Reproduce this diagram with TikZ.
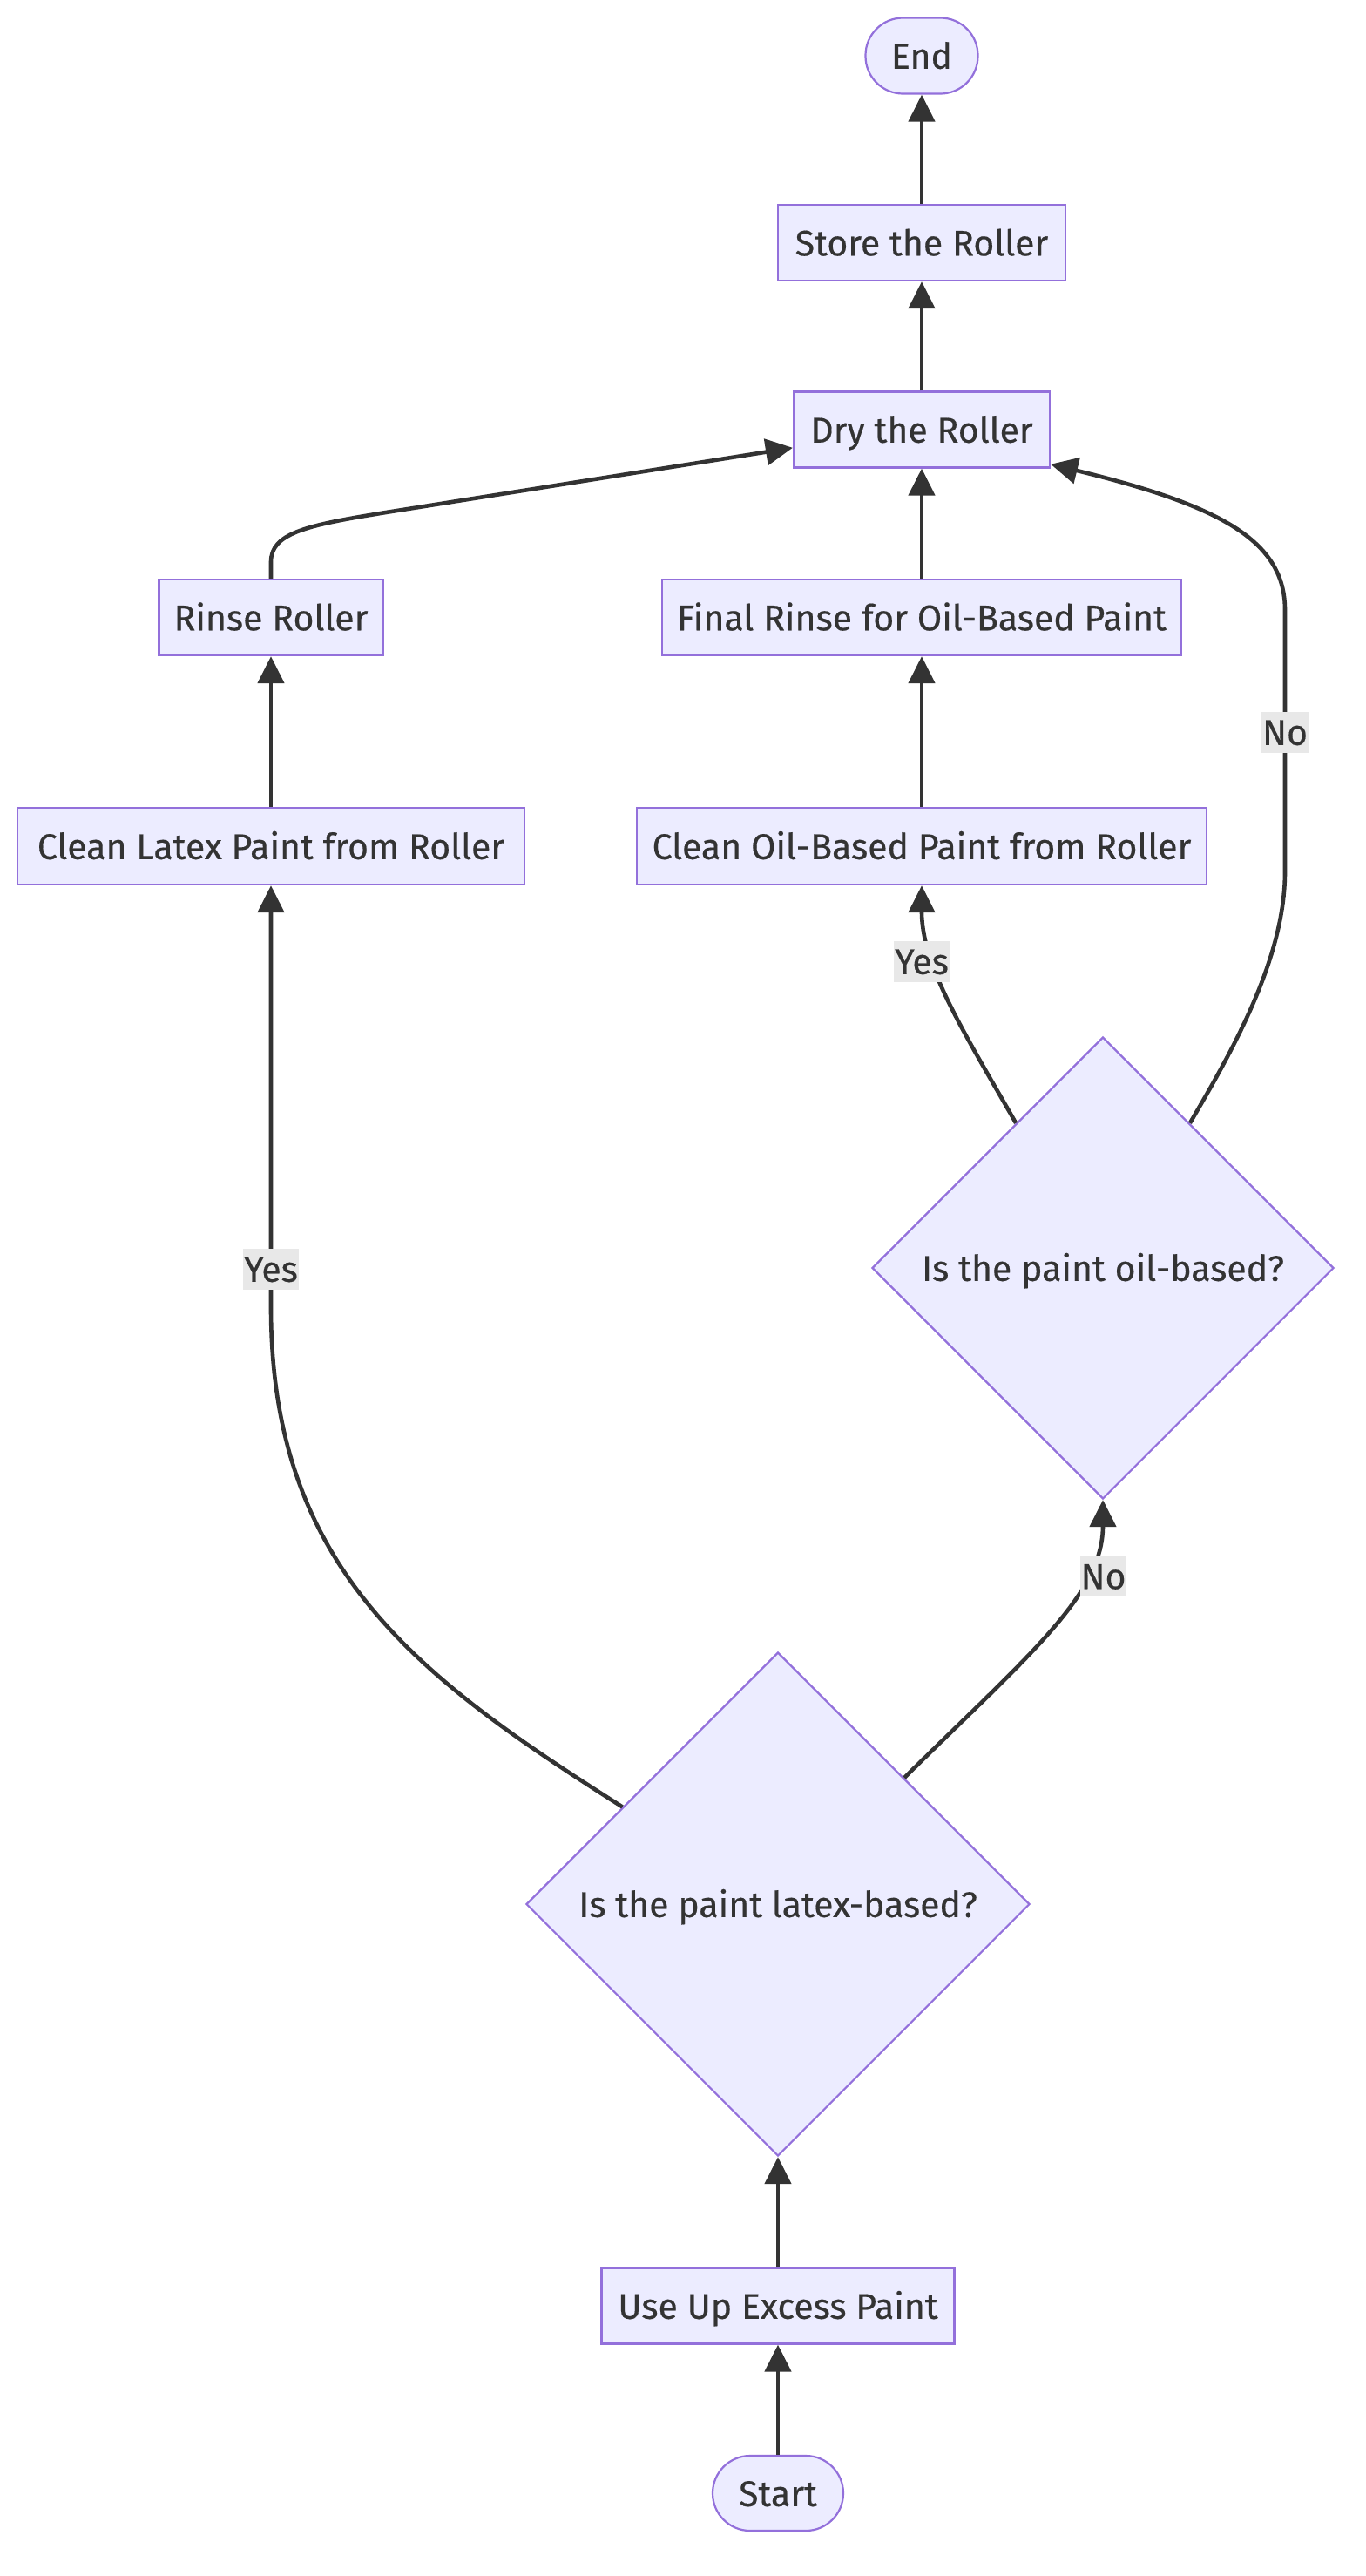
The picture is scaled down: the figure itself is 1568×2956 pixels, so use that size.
\documentclass[tikz,border=0pt]{standalone}
\usepackage{fontspec}
\setmainfont{Fira Sans}[FakeBold=0.4]
\usetikzlibrary{shapes.geometric,arrows.meta}
\definecolor{nfill}{HTML}{ECECFF}
\definecolor{nline}{HTML}{9370DB}
\definecolor{eline}{HTML}{333333}
\definecolor{lblbg}{HTML}{E8E8E8}
\tikzset{
  base/.style={draw=nline, fill=nfill, line width=1.1pt, text=eline, inner sep=0pt,
    font=\fontsize{20.5pt}{24pt}\selectfont, text height=15.6pt, text depth=0.8pt},
  procbox/.style={base, rectangle, minimum height=43.5pt},
  termbox/.style={base, rectangle, rounded corners=21.5pt, minimum height=43.5pt},
  decbox/.style={base, diamond, aspect=1},
  edge/.style={draw=eline, line width=2.3pt, -{Triangle[length=15.5pt,width=15pt]}},
  elabel/.style={fill=lblbg, text=eline, inner xsep=0.5pt, inner ysep=0pt, minimum height=23.5pt,
    font=\fontsize{20.5pt}{24pt}\selectfont, text height=15.6pt, text depth=0.8pt}
}
\begin{document}
\begin{tikzpicture}[x=0.5pt,y=-0.5pt]
\useasboundingbox (0,0) rectangle (1568,2956);
% nodes
\node[termbox, minimum width=64.5pt] (end) at (1058,64) {End};
\node[procbox, minimum width=165pt] (store) at (1058,278.5) {Store the Roller};
\node[procbox, minimum width=147pt] (dry) at (1058,493) {Dry the Roller};
\node[procbox, minimum width=128.5pt] (rinse) at (311,708.5) {Rinse Roller};
\node[procbox, minimum width=298pt] (final) at (1058,708.5) {Final Rinse for Oil-Based Paint};
\node[procbox, minimum width=291pt, minimum height=44pt] (cleanL) at (311,971) {Clean Latex Paint from Roller};
\node[procbox, minimum width=327pt, minimum height=44pt] (cleanO) at (1058,971) {Clean Oil-Based Paint from Roller};
\node[decbox, minimum width=265pt, minimum height=265pt] (oil) at (1266,1455) {Is the paint oil-based?};
\node[decbox, minimum width=289pt, minimum height=289pt] (lat) at (893,2185) {Is the paint latex-based?};
\node[procbox, minimum width=202.5pt] (useup) at (893,2646) {Use Up Excess Paint};
\node[termbox, minimum width=75pt, minimum height=43pt] (start) at (893,2861) {Start};
% edges
\draw[edge] (start) -- (useup);
\draw[edge] (useup) -- (lat);
\draw[edge] (lat.148) .. controls (480,1925) and (311,1800) .. (311,1500) -- (cleanL.south);
\draw[edge] (lat.45) .. controls (1180,1900) and (1266,1830) .. (oil.south);
\draw[edge] (oil.121) .. controls (1110,1190) and (1058,1110) .. (cleanO.south);
\draw[edge] (oil.59) .. controls (1415,1205) and (1475,1100) .. (1475,1000) -- (1475,700) .. controls (1475,620) and (1400,580) .. (dry.-15);
\draw[edge] (cleanL) -- (rinse);
\draw[edge] (cleanO) -- (final);
\draw[edge] (rinse.north) -- (311,645) .. controls (311,612) and (350,603) .. (443,588) -- (dry.188);
\draw[edge] (final) -- (dry);
\draw[edge] (dry) -- (store);
\draw[edge] (store) -- (end);
% labels
\node[elabel] (lyes1) at (311,1456) {Yes};
\node[elabel] (lno1) at (1266.5,1808.5) {No};
\node[elabel] (lyes2) at (1058,1103) {Yes};
\node[elabel] (lno2) at (1475,840) {No};
\end{tikzpicture}
\end{document}
